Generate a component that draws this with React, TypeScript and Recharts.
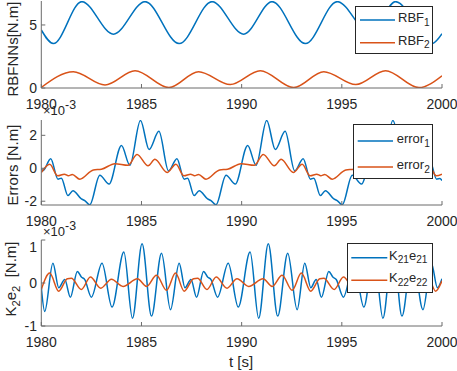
import { LineChart, Line, XAxis, YAxis, Legend } from 'recharts';

const T_TICKS = [1980, 1985, 1990, 1995, 2000];

// top panel: RBFNN outputs [N.m], (t, value) at turning points
const rbf1: [number, number][] = [
  [1980, 4.6], [1980.6, 3.52], [1982.02, 6.85], [1983.6, 4.27], [1985.18, 6.85], [1986.88, 3.52],
  [1988.52, 6.85], [1990.1, 4.27], [1991.52, 6.85], [1993.18, 3.52], [1994.77, 6.85], [1996.43, 4.27],
  [1997.68, 6.85], [1999.5, 3.52], [2000, 4.3],
];
const rbf2: [number, number][] = [
  [1980, 0.05], [1981.6, 1.29], [1983.18, 0.24], [1984.68, 1.37], [1986.37, 0.03], [1987.85, 1.29],
  [1989.43, 0.27], [1990.93, 1.37], [1992.6, 0.03], [1994.1, 1.29], [1995.7, 0.27], [1997.18, 1.37],
  [1998.85, 0.03], [2000, 0.97],
];

// middle panel: errors [N.m] x 1e-3
const err1: [number, number][] = [
  [1980, 0.0], [1980.08, -0.15], [1980.47, 0.58], [1980.83, -0.66], [1981.0, -0.6], [1981.33, -1.66],
  [1981.58, -1.36], [1982.0, -1.86], [1982.17, -1.96], [1982.42, -2.22], [1982.92, -0.42], [1983.38, -0.96],
  [1984.0, 1.38], [1984.42, 0.18], [1984.95, 2.9], [1985.38, 1.14], [1985.87, 2.24], [1986.35, -0.16],
  [1986.77, 0.58], [1987.13, -0.66], [1987.3, -0.6], [1987.63, -1.66], [1987.88, -1.36], [1988.3, -1.86],
  [1988.47, -1.96], [1988.72, -2.22], [1989.22, -0.42], [1989.68, -0.96], [1990.3, 1.38], [1990.72, 0.18],
  [1991.25, 2.9], [1991.68, 1.14], [1992.17, 2.24], [1992.65, -0.16], [1993.07, 0.58], [1993.43, -0.66],
  [1993.6, -0.6], [1993.93, -1.66], [1994.18, -1.36], [1994.6, -1.86], [1994.77, -1.96], [1995.02, -2.22],
  [1995.52, -0.42], [1995.98, -0.96], [1996.6, 1.38], [1997.02, 0.18], [1997.55, 2.9], [1997.98, 1.14],
  [1998.47, 2.24], [1998.95, -0.16], [1999.37, 0.58], [1999.73, -0.66], [1999.9, -0.62], [2000, -0.75],
];
const err2: [number, number][] = [
  [1980, -0.26], [1980.42, 0.24], [1980.82, -0.46], [1981.15, -0.36], [1981.35, -0.45], [1981.55, -0.38],
  [1981.92, -0.66], [1982.6, -0.1], [1983.0, -0.06], [1983.67, 0.28], [1984.33, 0.18], [1984.78, 0.84],
  [1985.33, 0.15], [1985.67, 0.54], [1986.28, -0.26], [1986.72, 0.24], [1987.12, -0.46], [1987.45, -0.36],
  [1987.65, -0.45], [1987.85, -0.38], [1988.22, -0.66], [1988.9, -0.1], [1989.3, -0.06], [1989.97, 0.28],
  [1990.63, 0.18], [1991.08, 0.84], [1991.63, 0.15], [1991.97, 0.54], [1992.58, -0.26], [1993.02, 0.24],
  [1993.42, -0.46], [1993.75, -0.36], [1993.95, -0.45], [1994.15, -0.38], [1994.52, -0.66], [1995.2, -0.1],
  [1995.6, -0.06], [1996.27, 0.28], [1996.93, 0.18], [1997.38, 0.84], [1997.93, 0.15], [1998.27, 0.54],
  [1998.88, -0.26], [1999.32, 0.24], [1999.72, -0.46], [2000, -0.36],
];

// bottom panel: K2 e2 terms [N.m] x 1e-3
const k21: [number, number][] = [
  [1980, -0.1], [1980.17, -0.66], [1980.58, 0.46], [1980.87, -0.11], [1981.17, 0.08], [1981.45, -0.33],
  [1981.8, 0.27], [1982.0, 0.14], [1982.17, 0.08], [1982.5, -0.33], [1983.03, 0.46], [1983.53, -0.56],
  [1984.12, 0.72], [1984.55, -0.82], [1985.03, 0.91], [1985.5, -0.77], [1986.0, 0.69], [1986.45, -0.62],
  [1986.88, 0.46], [1987.17, -0.11], [1987.47, 0.08], [1987.75, -0.33], [1988.1, 0.27], [1988.3, 0.14],
  [1988.47, 0.08], [1988.8, -0.33], [1989.33, 0.46], [1989.83, -0.56], [1990.42, 0.72], [1990.85, -0.82],
  [1991.33, 0.91], [1991.8, -0.77], [1992.3, 0.69], [1992.77, -0.62], [1993.15, 0.46], [1993.45, -0.11],
  [1993.72, 0.08], [1993.98, -0.33], [1994.35, 0.27], [1994.55, 0.14], [1994.72, 0.08], [1995.08, -0.33],
  [1995.6, 0.46], [1996.1, -0.56], [1996.6, 0.72], [1997.05, -0.82], [1997.55, 0.91], [1998.0, -0.77],
  [1998.52, 0.69], [1999.05, -0.62], [1999.47, 0.46], [1999.77, -0.11], [2000, 0.1],
];
const k22: [number, number][] = [
  [1980, -0.15], [1980.42, 0.23], [1980.87, -0.19], [1981.3, 0.1], [1981.5, 0.11], [1982.0, -0.15],
  [1982.45, 0.14], [1982.97, -0.12], [1983.5, 0.09], [1984.08, -0.08], [1984.8, 0.1], [1985.25, -0.08],
  [1985.75, 0.18], [1986.25, -0.17], [1986.7, 0.23], [1987.13, -0.19], [1987.6, 0.1], [1987.8, 0.11],
  [1988.27, -0.15], [1988.73, 0.14], [1989.27, -0.12], [1989.77, 0.1], [1990.35, -0.08], [1991.07, 0.1],
  [1991.52, -0.08], [1992.02, 0.18], [1992.52, -0.17], [1992.98, 0.23], [1993.45, -0.19], [1993.9, 0.1],
  [1994.1, 0.11], [1994.62, -0.15], [1995.08, 0.14], [1995.6, -0.12], [1996.1, 0.1], [1996.68, -0.08],
  [1997.38, 0.1], [1997.83, -0.08], [1998.32, 0.18], [1998.8, -0.17], [1999.25, 0.23], [1999.68, -0.19],
  [2000, 0.05],
];

const BLUE = '#0072BD';
const ORANGE = '#D95319';
const AXIS = '#6b6b6b';
const TEXT = '#262626';
const FONT = '"Liberation Sans", Arial, Helvetica, sans-serif';

const toPts = (a: [number, number][]) => a.map(([t, v]) => ({ t, v }));

type NamePart = [string, string];

interface Box {
  left: number;
  top: number;
  width: number;
  height: number;
  rows: number[];
  lineX: [number, number];
  textX: number;
}

interface PanelProps {
  plotTop: number;
  plotH: number;
  a: [number, number][];
  b: [number, number][];
  domain: [number, number];
  yTicks: number[];
  names: [NamePart[], NamePart[]];
  box: Box;
  labelGap: number;
}

function Sub({ parts }: { parts: NamePart[] }) {
  return (
    <span>
      {parts.map(([m, s], i) => (
        <span key={i}>
          {m}
          <span style={{ fontSize: '0.78em', position: 'relative', top: '0.35em' }}>{s}</span>
        </span>
      ))}
    </span>
  );
}

function Panel({ plotTop, plotH, a, b, domain, yTicks, names, box, labelGap }: PanelProps) {
  const xh = 31;
  const colors = [BLUE, ORANGE];
  const renderLegend = () => (
    <div style={{ position: 'relative', width: box.width, height: box.height, background: '#fff', border: `1px solid ${TEXT}`, boxSizing: 'border-box', fontFamily: FONT, fontSize: 13, color: TEXT }}>
      {names.map((n, i) => (
        <div key={i}>
          <svg style={{ position: 'absolute', left: 0, top: 0 }} width={box.width} height={box.height}>
            <line x1={box.lineX[0]} x2={box.lineX[1]} y1={box.rows[i]} y2={box.rows[i]} stroke={colors[i]} strokeWidth={1.5} />
          </svg>
          <div style={{ position: 'absolute', left: box.textX, top: box.rows[i] - 9, lineHeight: '14px', whiteSpace: 'nowrap' }}>
            <Sub parts={n} />
          </div>
        </div>
      ))}
    </div>
  );
  return (
    <div style={{ position: 'absolute', left: 0, top: plotTop - 1 }}>
      <LineChart width={457} height={1 + plotH + xh} margin={{ top: 1, right: 15, bottom: 0, left: 0 }}>
        <XAxis type="number" dataKey="t" domain={[1980, 2000]} ticks={T_TICKS} allowDataOverflow height={xh}
          stroke={AXIS} tickSize={-4} tickMargin={labelGap} tick={{ fill: TEXT, fontSize: 14, fontFamily: FONT }} />
        <XAxis xAxisId="top" orientation="top" type="number" dataKey="t" domain={[1980, 2000]} ticks={T_TICKS} allowDataOverflow
          height={0} stroke={AXIS} tickSize={-4} tick={false} />
        <YAxis type="number" domain={domain} ticks={yTicks} allowDataOverflow width={41.3}
          stroke={AXIS} tickSize={-4} tickMargin={8.3} tick={{ fill: TEXT, fontSize: 14, fontFamily: FONT }} />
        <YAxis yAxisId="right" orientation="right" type="number" domain={domain} ticks={yTicks} allowDataOverflow
          width={0} stroke={AXIS} tickSize={-4} tick={false} />
        <Line data={toPts(a)} dataKey="v" type="monotone" stroke={BLUE} strokeWidth={1.5} dot={false} isAnimationActive={false} />
        <Line data={toPts(b)} dataKey="v" type="monotone" stroke={ORANGE} strokeWidth={1.5} dot={false} isAnimationActive={false} />
        <Legend layout="vertical" align="center" verticalAlign="middle" content={renderLegend}
          wrapperStyle={{ left: box.left, top: box.top - plotTop + 1, width: box.width, height: box.height }} />
      </LineChart>
    </div>
  );
}

function YLabel({ cx, cy, children }: { cx: number; cy: number; children: React.ReactNode }) {
  return (
    <div style={{ position: 'absolute', left: cx, top: cy, transform: 'translate(-50%, -50%) rotate(-90deg)', whiteSpace: 'nowrap', fontSize: 15, lineHeight: '17px' }}>
      {children}
    </div>
  );
}

function Exponent({ x, y }: { x: number; y: number }) {
  return (
    <div style={{ position: 'absolute', left: x, top: y, fontSize: 13, lineHeight: '13px', whiteSpace: 'nowrap' }}>
      ×10<span style={{ position: 'relative', top: '-0.45em', fontSize: '0.95em' }}>-3</span>
    </div>
  );
}

export default function App() {
  return (
    <div style={{ position: 'absolute', left: 0, top: 0, width: 457, height: 371, background: '#fff', fontFamily: FONT, color: TEXT }}>
      <Panel plotTop={1} plotH={87} a={rbf1} b={rbf2} domain={[0, 6.9]} yTicks={[0, 5]} labelGap={15}
        names={[[['RBF', '1']], [['RBF', '2']]]}
        box={{ left: 355, top: 6, width: 78, height: 48, rows: [13, 35.7], lineX: [4, 39], textX: 42 }} />
      <Panel plotTop={120} plotH={85} a={err1} b={err2} domain={[-2.23, 2.93]} yTicks={[-2, 0, 2]} labelGap={15}
        names={[[['error', '1']], [['error', '2']]]}
        box={{ left: 353, top: 124, width: 80, height: 55, rows: [16, 42], lineX: [3.7, 39], textX: 42.7 }} />
      <Panel plotTop={239.5} plotH={86} a={k21} b={k22} domain={[-1, 1]} yTicks={[-1, 0, 1]} labelGap={15}
        names={[[['K', '21'], ['e', '21']], [['K', '22'], ['e', '22']]]}
        box={{ left: 346.7, top: 243, width: 86, height: 50, rows: [13.7, 36.3], lineX: [3.3, 39.3], textX: 41.3 }} />
      <YLabel cx={12} cy={49}>RBFNNs[N.m]</YLabel>
      <YLabel cx={12} cy={165}>Errors [N.m]</YLabel>
      <YLabel cx={11} cy={279}>
        K<span style={{ fontSize: '0.75em', position: 'relative', top: '0.35em' }}>2</span>e<span style={{ fontSize: '0.75em', position: 'relative', top: '0.35em' }}>2</span>&nbsp;&nbsp;[N.m]
      </YLabel>
      <Exponent x={43} y={104} />
      <Exponent x={43} y={225} />
      <div style={{ position: 'absolute', left: 241, top: 361, transform: 'translate(-50%, -50%)', fontSize: 15, whiteSpace: 'nowrap' }}>t [s]</div>
    </div>
  );
}
